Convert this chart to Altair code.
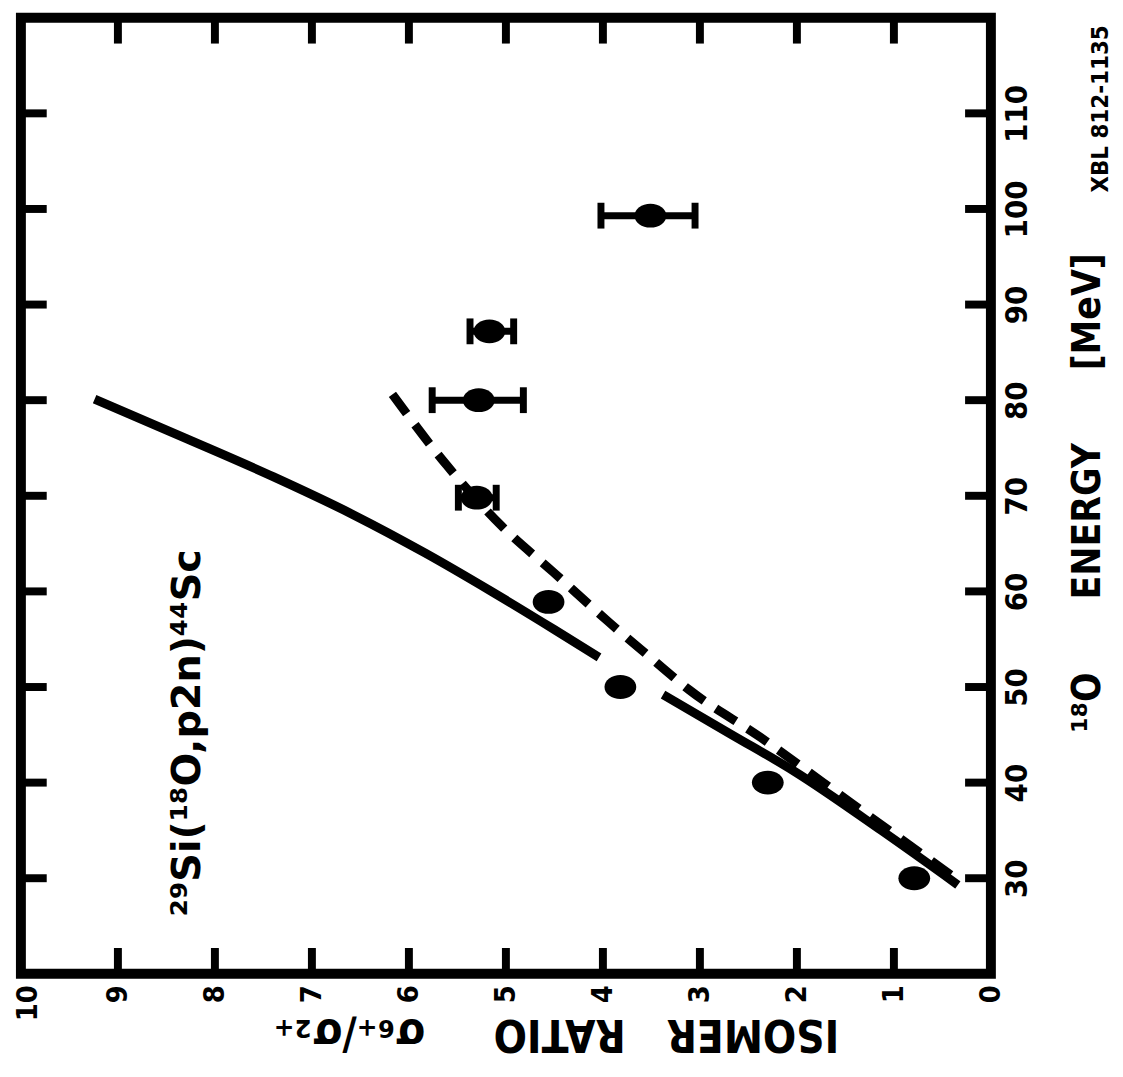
import altair as alt
import pandas as pd

# ---------------- data ----------------
RATIO_LABELS = [0, 1, 2, 3, 4, 5, 6, 7, 8, 9, 10]
RATIO_TICKS = [1, 2, 3, 4, 5, 6, 7, 8, 9]
ENERGY_TICKS = [30, 40, 50, 60, 70, 80, 90, 100, 110]

PT_ENERGY = [30.0, 40.0, 50.0, 58.9]
PT_RATIO = [0.79, 2.30, 3.82, 4.56]

EB_ENERGY = [69.8, 80.0, 87.2, 99.3]
EB_RATIO = [5.30, 5.28, 5.17, 3.51]
EB_LOW = [5.10, 4.82, 4.92, 3.05]
EB_HIGH = [5.49, 5.76, 5.37, 4.02]

DASH_ENERGY = [29.5, 35.0, 40.0, 44.7, 49.7, 53.0, 56.8, 62.0, 66.9, 73.2, 80.6]
DASH_RATIO = [0.30, 1.05, 1.73, 2.37, 3.11, 3.50, 3.94, 4.51, 5.05, 5.61, 6.17]

SOLID_UP_ENERGY = [53.1, 56.0, 60.0, 64.0, 68.0, 72.0, 76.0, 80.1]
SOLID_UP_RATIO = [4.04, 4.50, 5.15, 5.83, 6.57, 7.40, 8.30, 9.24]

SOLID_LOW_ENERGY = [29.3, 35.0, 41.2, 45.0, 49.2]
SOLID_LOW_RATIO = [0.34, 1.13, 2.03, 2.67, 3.38]

NB = "\u00a0"
X_TITLE = "ISOMER" + NB * 3 + "RATIO" + NB * 5 + "σ₆₊/σ₂₊"
Y_TITLE = "¹⁸O" + NB * 6 + "ENERGY" + NB * 6 + "[MeV]"
REACTION = "²⁹Si(¹⁸O,p2n)⁴⁴Sc"
XBL = "XBL 812-1135"
ANN_RATIO = [8.28]
ANN_ENERGY = [26.0]

# ---------------- layout ----------------
W, H = 977, 963
FONT = "DejaVu Sans Condensed, DejaVu Sans, sans-serif"
ELLIPSE = "M-1,0A1,0.75,0,1,1,1,0A1,0.75,0,1,1,-1,0Z"

xscale = alt.Scale(domain=[0, 10], reverse=True, nice=False, zero=False)
yscale = alt.Scale(domain=[20, 120], nice=False, zero=False)

x_axis = alt.Axis(
    values=RATIO_LABELS, orient="bottom", format="d", grid=False, domain=False,
    ticks=False, tickSize=0, labelAngle=270, labelAlign="right", labelBaseline="middle",
    labelFont=FONT, labelFontSize=29, labelFontWeight="bold", labelColor="black",
    labelPadding=11, labelFlush=False, labelOverlap=False,
    labelOffset={"condition": {"test": "datum.value == 10", "value": 7}, "value": 0},
    title=X_TITLE, titleFont=FONT, titleFontSize=44, titleFontWeight="bold",
    titleColor="black", titleAngle=180, titleAlign="center", titleBaseline="middle",
    titleX=539, titleY=59,
)
y_axis = alt.Axis(
    values=ENERGY_TICKS, orient="right", format="d", grid=False, domain=False,
    ticks=False, tickSize=0, labelAngle=270, labelAlign="center", labelBaseline="top",
    labelFont=FONT, labelFontSize=31, labelFontWeight="bold", labelColor="black",
    labelPadding=12, labelFlush=False, labelOverlap=False,
    title=Y_TITLE, titleFont=FONT, titleFontSize=39, titleFontWeight="bold",
    titleColor="black", titleAngle=270, titleAlign="center", titleBaseline="middle",
    titleX=97, titleY=478,
)


def X(field):
    return alt.X(field, type="quantitative", scale=xscale, axis=x_axis)


def Y(field):
    return alt.Y(field, type="quantitative", scale=yscale, axis=y_axis)


df_rt = pd.DataFrame({"ratio": RATIO_TICKS})
df_et = pd.DataFrame({"energy": ENERGY_TICKS})
df_pts = pd.DataFrame({"energy": PT_ENERGY, "ratio": PT_RATIO})
df_eb = pd.DataFrame({"energy": EB_ENERGY, "ratio": EB_RATIO, "low": EB_LOW, "high": EB_HIGH})
df_dash = pd.DataFrame({"energy": DASH_ENERGY, "ratio": DASH_RATIO})
df_up = pd.DataFrame({"energy": SOLID_UP_ENERGY, "ratio": SOLID_UP_RATIO})
df_low = pd.DataFrame({"energy": SOLID_LOW_ENERGY, "ratio": SOLID_LOW_RATIO})
df_ann = pd.DataFrame({"energy": ANN_ENERGY, "ratio": ANN_RATIO, "label": [REACTION]})
df_xbl = pd.DataFrame({"label": [XBL]})

pt_kw = dict(shape=ELLIPSE, filled=True, size=1024, color="black", opacity=1, strokeWidth=0)
points = alt.Chart(df_pts).mark_point(**pt_kw).encode(x=X("ratio"), y=Y("energy"))
eb_points = alt.Chart(df_eb).mark_point(**pt_kw).encode(x=X("ratio"), y=Y("energy"))

TL = 26
rule = dict(strokeWidth=8, color="black")
ticks_bottom = alt.Chart(df_rt).mark_rule(**rule).encode(
    x=X("ratio"), y=alt.value(H - TL), y2=alt.value(H))
ticks_top = alt.Chart(df_rt).mark_rule(**rule).encode(
    x=X("ratio"), y=alt.value(0), y2=alt.value(TL))
ticks_right = alt.Chart(df_et).mark_rule(**rule).encode(
    y=Y("energy"), x=alt.value(W - TL), x2=alt.value(W))
ticks_left = alt.Chart(df_et).mark_rule(**rule).encode(
    y=Y("energy"), x=alt.value(0), x2=alt.value(TL))

line_kw = dict(strokeWidth=9, color="black", interpolate="monotone")
dashed = alt.Chart(df_dash).mark_line(strokeDash=[24, 14], **line_kw).encode(
    x=X("ratio"), y=Y("energy"), order=alt.Order("energy:Q", sort="descending"))
solid_up = alt.Chart(df_up).mark_line(**line_kw).encode(
    x=X("ratio"), y=Y("energy"), order="energy:Q")
solid_low = alt.Chart(df_low).mark_line(**line_kw).encode(
    x=X("ratio"), y=Y("energy"), order="energy:Q")

errbars = alt.Chart(df_eb).mark_errorbar(
    ticks={"color": "black", "opacity": 1}, rule={"color": "black", "opacity": 1},
    size=26, thickness=7, color="black", opacity=1).encode(
    x=X("low"), x2=alt.X2("high"), y=Y("energy"))

annotation = alt.Chart(df_ann).mark_text(
    angle=270, align="left", baseline="middle", font="DejaVu Sans",
    fontSize=40, fontWeight="bold", color="black").encode(
    x=X("ratio"), y=Y("energy"), text="label:N")

xbl = alt.Chart(df_xbl).mark_text(
    angle=270, align="left", baseline="middle", font="DejaVu Sans Condensed, DejaVu Sans",
    fontSize=24, fontWeight="bold", color="black").encode(
    x=alt.value(1088), y=alt.value(176), text="label:N")

chart = alt.layer(
    points, eb_points, ticks_bottom, ticks_top, ticks_right, ticks_left,
    dashed, solid_up, solid_low, errbars, annotation, xbl,
).properties(
    width=W, height=H,
    autosize=alt.AutoSizeParams(type="none"),
    padding={"left": 13, "top": 6, "right": 125, "bottom": 87},
    background="white",
).configure_view(stroke="black", strokeWidth=10)

chart.save("out.html", embed_options={"renderer": "svg", "actions": False})
